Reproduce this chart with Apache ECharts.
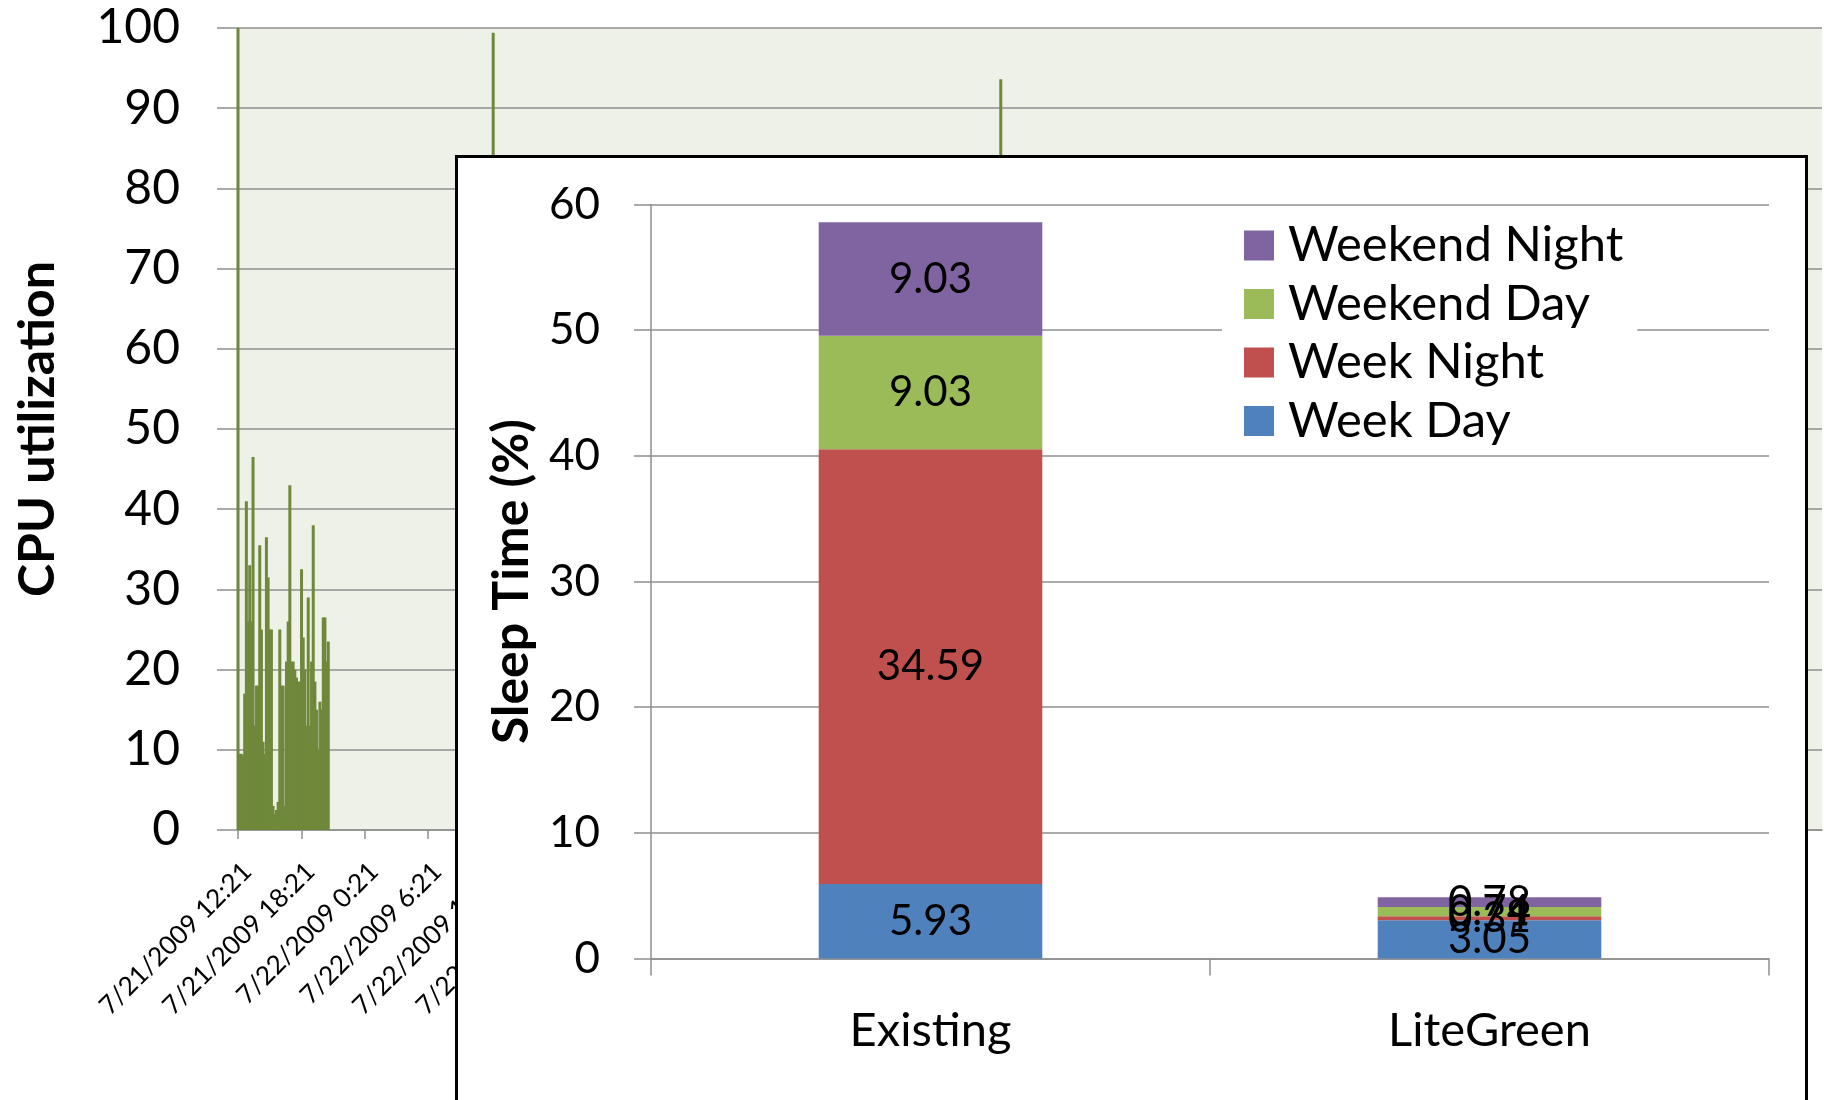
<!DOCTYPE html>
<html>
<head>
<meta charset="utf-8">
<script src="https://cdn.jsdelivr.net/npm/echarts@6/dist/echarts.min.js"></script>
<style>
  html, body { margin: 0; padding: 0; background: #fff; overflow: hidden; }
  #bg { position: absolute; left: 0; top: 0; width: 1824px; height: 1100px; }
  #inset { position: absolute; left: 455px; top: 155px; width: 1353px; height: 960px;
           border: 3px solid #000; box-sizing: border-box; background: #fff; }
</style>
</head>
<body>
<div id="bg"></div>
<div id="inset"></div>
<script>
// ---------- Background chart: CPU utilization ----------
// x tick labels (every 6 hours)
const cpuTickLabels = [
  '7/21/2009 12:21', '7/21/2009 18:21', '7/22/2009 0:21', '7/22/2009 6:21',
  '7/22/2009 12:21', '7/22/2009 18:21', '7/23/2009 0:21', '7/23/2009 6:21',
  '7/23/2009 12:21', '7/23/2009 18:21', '7/24/2009 0:21', '7/24/2009 6:21',
  '7/24/2009 12:21', '7/24/2009 18:21', '7/25/2009 0:21', '7/25/2009 6:21',
  '7/25/2009 12:21', '7/25/2009 18:21', '7/26/2009 0:21', '7/26/2009 6:21',
  '7/26/2009 12:21', '7/26/2009 18:21', '7/27/2009 0:21', '7/27/2009 6:21',
  '7/27/2009 12:21'
];
const cpuTickMinutes = 360;      // minutes between labelled ticks
const cpuAxisMaxMinutes = 9000;  // axis end (minutes after first sample)
// dense block of samples starting at minute 0, one every 9.5 minutes
const cpuBlockStepMinutes = 9.5;
const cpuBlockValues = [100, 9.5, 9.5, 9.3, 17, 41, 26, 33, 26, 46.5, 13, 18, 18, 35.5, 25, 11,
  9.5, 36.5, 31.5, 25, 25, 3, 2, 2.5, 3.5, 25, 18, 18, 3, 21, 26, 43, 21, 21, 20, 19,
  18.5, 18.5, 32.5, 24, 20, 13, 29, 13, 21, 38, 18.5, 15, 10, 16, 15, 26.5, 26.5, 21, 23.5];
// isolated spikes
const cpuSpikeMinutes = [1450, 4334];
const cpuSpikeValues = [99.4, 93.6];

const cpuData = [];
cpuBlockValues.forEach((v, i) => cpuData.push([i * cpuBlockStepMinutes, v]));
cpuSpikeMinutes.forEach((m, i) => cpuData.push([m, cpuSpikeValues[i]]));

const FONT = 'Lato';
const GRID_GRAY = '#8f8f8f';

const bg = echarts.init(document.getElementById('bg'), null, { renderer: 'canvas' });
bg.setOption({
  animation: false,
  grid: { left: 238, right: 2, top: 28, bottom: 270, show: true, backgroundColor: '#eef1e7',
          borderWidth: 0, containLabel: false, outerBoundsMode: 'none' },
  xAxis: {
    type: 'value', min: 0, max: cpuAxisMaxMinutes, interval: cpuTickMinutes,
    axisLine: { show: true, lineStyle: { color: GRID_GRAY, width: 1.5 } },
    axisTick: { show: true, length: 9, lineStyle: { color: GRID_GRAY, width: 1.5 } },
    splitLine: { show: false },
    axisLabel: {
      rotate: 45, align: 'right', verticalAlign: 'top', margin: 28,
      fontSize: 26, fontFamily: FONT, color: '#000',
      showMinLabel: true, showMaxLabel: false, hideOverlap: false,
      formatter: v => cpuTickLabels[Math.round(v / cpuTickMinutes)] || ''
    }
  },
  yAxis: {
    type: 'value', min: 0, max: 100, interval: 10,
    name: 'CPU utilization', nameLocation: 'middle', nameGap: 175,
    nameTextStyle: { fontSize: 50, fontWeight: 'bold', fontFamily: FONT, color: '#000' },
    axisLine: { show: true, lineStyle: { color: GRID_GRAY, width: 1.5 } },
    axisTick: { show: true, length: 21, lineStyle: { color: GRID_GRAY, width: 1.5 } },
    axisLabel: { fontSize: 48, fontFamily: FONT, color: '#000', margin: 58 },
    splitLine: { show: true, lineStyle: { color: GRID_GRAY, width: 1.5 } }
  },
  series: [{
    type: 'bar', data: cpuData, barWidth: 3,
    itemStyle: { color: '#6f883b' }
  }]
});

// ---------- Inset chart: Sleep Time ----------
const categories = ['Existing', 'LiteGreen'];
const weekDay = [5.93, 3.05];
const weekNight = [34.59, 0.31];
const weekendDay = [9.03, 0.74];
const weekendNight = [9.03, 0.78];
const legendOrder = ['Weekend Night', 'Weekend Day', 'Week Night', 'Week Day'];

const labelCfg = { show: true, position: 'inside', color: '#000', fontSize: 42, fontFamily: FONT };
function mk(name, data, color) {
  return { name, type: 'bar', stack: 'sleep', data, barWidth: '40%',
           itemStyle: { color }, label: labelCfg };
}

const inset = echarts.init(document.getElementById('inset'), null, { renderer: 'canvas' });
inset.setOption({
  animation: false,
  grid: { left: 193, right: 36, top: 46.5, bottom: 153.4, containLabel: false, outerBoundsMode: 'none' },
  legend: {
    orient: 'vertical', left: 764, top: 55,
    data: legendOrder, icon: 'rect', itemWidth: 30, itemHeight: 30, itemGap: 9.5,
    padding: [8, 14, 4, 22], backgroundColor: '#fff',
    textStyle: { fontSize: 49, fontFamily: FONT, color: '#000', padding: [0, 0, 0, 9] }
  },
  xAxis: {
    type: 'category', data: categories,
    axisLine: { show: true, lineStyle: { color: GRID_GRAY, width: 1.5 } },
    axisTick: { show: true, length: 17, lineStyle: { color: GRID_GRAY, width: 1.5 } },
    axisLabel: { fontSize: 47, fontFamily: FONT, color: '#000', margin: 49 }
  },
  yAxis: {
    type: 'value', min: 0, max: 60, interval: 10,
    name: 'Sleep Time (%)', nameLocation: 'middle', nameGap: 114,
    nameTextStyle: { fontSize: 50, fontWeight: 'bold', fontFamily: FONT, color: '#000' },
    axisLine: { show: true, lineStyle: { color: GRID_GRAY, width: 1.5 } },
    axisTick: { show: true, length: 17, lineStyle: { color: GRID_GRAY, width: 1.5 } },
    axisLabel: { fontSize: 44, fontFamily: FONT, color: '#000', margin: 51 },
    splitLine: { show: true, lineStyle: { color: GRID_GRAY, width: 1.5 } }
  },
  series: [
    mk('Week Day', weekDay, '#4f81bd'),
    mk('Week Night', weekNight, '#c0504d'),
    mk('Weekend Day', weekendDay, '#9bbb59'),
    mk('Weekend Night', weekendNight, '#8064a2')
  ]
});
</script>
</body>
</html>
